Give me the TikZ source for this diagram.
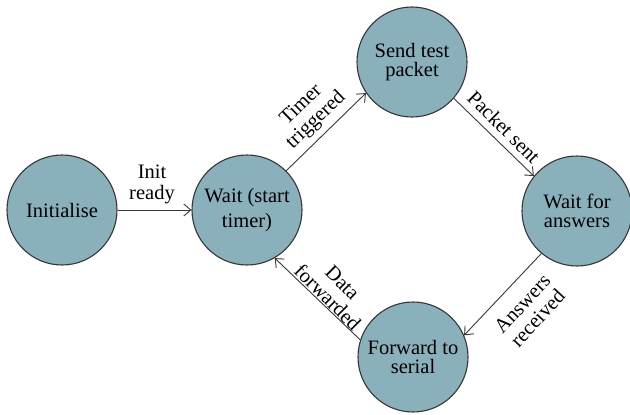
\documentclass[tikz,border=0pt]{standalone}
\usepackage{fontspec}
\setmainfont{Liberation Serif}
\usetikzlibrary{arrows.meta}
\definecolor{statefill}{RGB}{138,176,188}
\definecolor{edgecol}{RGB}{55,55,55}
\begin{document}
\begin{tikzpicture}[x=1pt,y=-1pt,
  state/.style={circle, draw=edgecol, line width=1.1pt, fill=statefill,
    minimum size=110pt, inner sep=0pt, align=center,
    font=\fontsize{20.5}{19}\selectfont},
  conn/.style={draw=edgecol, line width=0.9pt,
    -{Straight Barb[length=7pt,width=12pt]}},
  lbl/.style={font=\fontsize{20.5}{21}\selectfont, align=center, inner sep=0pt}]
\useasboundingbox (0,0) rectangle (630,415);
\node[state] (init) at (62,210) {Initialise};
\node[state, font=\fontsize{20.5}{25}\selectfont] (wait) at (247,210) {Wait (start\\timer)};
\node[state] (send) at (412,62) {Send test\\packet};
\node[state] (ans) at (577,211) {Wait for\\answers};
\node[state] (fwd) at (413,357) {Forward to\\serial};
\draw[conn] (init) -- (wait);
\draw[conn] (wait.45) -- (send.214);
\draw[conn] (send.319) -- (ans.141);
\draw[conn] (ans.230) -- (fwd.23);
\draw[conn] (fwd.162) -- (wait.300);
\node[lbl] (l1) at (152,184) {Init\\ready};
\node[lbl, rotate=44] (l2) at (309,113) {Timer\\triggered};
\node[lbl, rotate=-45] (l3) at (504,127) {Packet sent};
\node[lbl, rotate=47] (l4) at (530,311) {Answers\\received};
\node[lbl, rotate=-45] (l5) at (335,290) {Data\\forwarded};
\end{tikzpicture}
\end{document}
